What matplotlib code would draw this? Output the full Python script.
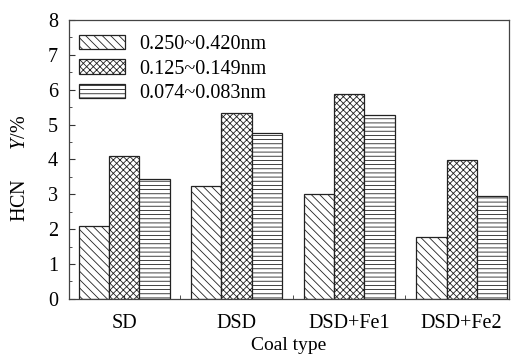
import matplotlib
matplotlib.use("Agg")
import matplotlib.pyplot as plt
import numpy as np

categories = ["SD", "DSD", "DSD+Fe1", "DSD+Fe2"]
series_labels = ["0.250~0.420nm", "0.125~0.149nm", "0.074~0.083nm"]
s1 = [2.1, 3.25, 3.02, 1.76]
s2 = [4.1, 5.34, 5.87, 3.97]
s3 = [3.43, 4.77, 5.28, 2.96]
hatches = ["\\\\\\\\", "xxxxx", "----"]

plt.rcParams['font.family'] = ['Liberation Serif', 'DejaVu Serif']
plt.rcParams['mathtext.fontset'] = 'custom'
plt.rcParams['mathtext.rm'] = 'Liberation Serif'
plt.rcParams['mathtext.it'] = 'Liberation Serif:italic'
plt.rcParams['hatch.linewidth'] = 0.6

FS = 14.5
fig = plt.figure(figsize=(5.11, 3.57), dpi=100)
ax = fig.add_axes([0.135, 0.163, 0.861, 0.781])

x = np.arange(len(categories))
w = 0.27
for i, (vals, lab, h) in enumerate(zip([s1, s2, s3], series_labels, hatches)):
    ax.bar(x + (i - 1) * w, vals, w, facecolor='white', edgecolor='#222222',
           linewidth=0.9, hatch=h, label=lab)

ax.set_xlim(-0.49, 3.42)
ax.set_ylim(0, 8)
ax.set_xticks(x)
ax.set_xticklabels(categories, fontsize=FS)
ax.set_xticks(x[:-1] + 0.5, minor=True)
ax.set_yticks(range(0, 9))
ax.set_yticks(np.arange(0.5, 8, 1), minor=True)
ax.tick_params(axis='both', which='both', direction='in', labelsize=FS, color='#333333')
ax.tick_params(axis='y', which='major', length=4, pad=8)
ax.tick_params(axis='y', which='minor', length=2.5)
ax.tick_params(axis='x', which='both', length=3, pad=11)
for s in ax.spines.values():
    s.set_color('#444444')
    s.set_linewidth(0.9)

ax.set_xlabel("Coal type", fontsize=14)
ax.xaxis.set_label_coords(0.5, -0.137)
ax.set_ylabel("HCN      $Y$/%", fontsize=FS)
ax.yaxis.set_label_coords(-0.088, 0.469)

leg = ax.legend(loc='upper left', bbox_to_anchor=(0.022, 0.945), frameon=False,
                fontsize=FS, handlelength=2.29, handleheight=0.7, labelspacing=0.25,
                handletextpad=0.7, borderaxespad=0, borderpad=0)

fig.savefig("out.png", dpi=100)
